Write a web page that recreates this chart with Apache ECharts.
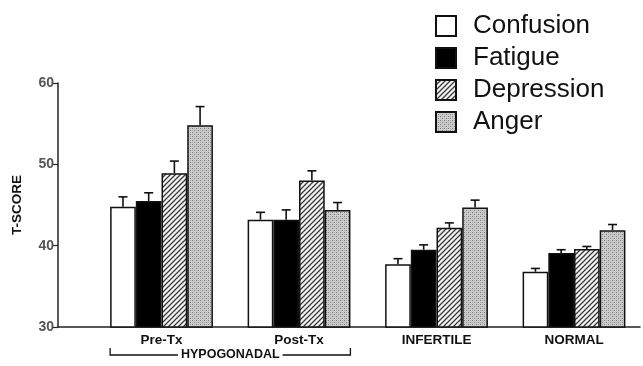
<!DOCTYPE html>
<html><head><meta charset="utf-8">
<script src="https://cdn.jsdelivr.net/npm/echarts@6/dist/echarts.min.js"></script>
<style>html,body{margin:0;padding:0;background:#fff}#c{width:643px;height:366px}</style>
</head><body><div id="c"></div>
<script>
const categories = ['Pre-Tx', 'Post-Tx', 'INFERTILE', 'NORMAL'];
const seriesNames = ['Confusion', 'Fatigue', 'Depression', 'Anger'];
const confusion = [44.8, 43.2, 37.7, 36.8];
const confusionErr = [46.0, 44.1, 38.4, 37.2];
const fatigue = [45.5, 43.2, 39.5, 39.1];
const fatigueErr = [46.5, 44.4, 40.1, 39.5];
const depression = [48.9, 48.0, 42.2, 39.6];
const depressionErr = [50.4, 49.2, 42.8, 39.9];
const anger = [54.8, 44.4, 44.7, 41.9];
const angerErr = [57.1, 45.3, 45.6, 42.6];
const yTicks = [30, 40, 50, 60];
const groupLabel = 'HYPOGONADAL';
const yName = 'T-SCORE';

const values = [confusion, fatigue, depression, anger];
const errs = [confusionErr, fatigueErr, depressionErr, angerErr];

function hatch() {
  const c = document.createElement('canvas'); c.width = 5; c.height = 5;
  const g = c.getContext('2d');
  g.fillStyle = '#f4f4f4'; g.fillRect(0, 0, 5, 5);
  g.strokeStyle = '#3a3a3a'; g.lineWidth = 1.3;
  g.beginPath();
  g.moveTo(-1, 6); g.lineTo(6, -1);
  g.moveTo(-1, 1); g.lineTo(1, -1);
  g.moveTo(4, 6); g.lineTo(6, 4);
  g.stroke();
  return c;
}
function stipple() {
  const c = document.createElement('canvas'); c.width = 4; c.height = 4;
  const g = c.getContext('2d');
  g.fillStyle = '#cdcdcd'; g.fillRect(0, 0, 4, 4);
  g.fillStyle = '#7a7a7a';
  g.fillRect(0, 0, 1, 1); g.fillRect(2, 2, 1, 1);
  g.fillStyle = '#a8a8a8';
  g.fillRect(2, 0, 1, 1); g.fillRect(0, 2, 1, 1);
  return c;
}
const fills = ['#ffffff', '#000000', { image: hatch(), repeat: 'repeat' }, { image: stipple(), repeat: 'repeat' }];

const BW = 25.7;
const chart = echarts.init(document.getElementById('c'), null, { renderer: 'canvas' });

const series = [];
seriesNames.forEach((name, k) => {
  series.push({
    name: name, type: 'bar', barWidth: BW, barGap: '0%',
    data: values[k].map((v, i) => [i, v]),
    itemStyle: { color: fills[k], borderColor: '#111', borderWidth: 1.5 },
    emphasis: { disabled: true },
    z: 2
  });
});
seriesNames.forEach((name, k) => {
  series.push({
    name: name + ' err', type: 'custom', z: 5,
    data: errs[k].map((e, i) => [i, values[k][i], e]),
    renderItem: function (params, api) {
      const lo = api.coord([api.value(0), api.value(1)]);
      const hi = api.coord([api.value(0), api.value(2)]);
      const x = lo[0] + (k - 1.5) * BW;
      const st = { stroke: '#111', lineWidth: 1.6 };
      return { type: 'group', children: [
        { type: 'line', shape: { x1: x, y1: lo[1], x2: x, y2: hi[1] }, style: st },
        { type: 'line', shape: { x1: x - 4.5, y1: hi[1], x2: x + 4.5, y2: hi[1] }, style: st }
      ] };
    }
  });
});

chart.setOption({
  animation: false,
  textStyle: { fontFamily: 'Liberation Sans' },
  grid: { left: 58, right: 3, top: 83, bottom: 39 },
  legend: {
    data: seriesNames, orient: 'vertical', left: 430, top: 8,
    itemWidth: 20, itemHeight: 20, itemGap: 6, selectedMode: false,
    icon: 'rect',
    textStyle: { fontSize: 26, color: '#111', fontFamily: 'Liberation Sans', padding: [0, 0, 0, 12] }
  },
  xAxis: {
    type: 'value', min: -0.753, max: 3.48,
    axisLine: { show: true, onZero: false, lineStyle: { color: '#222', width: 1.5 } },
    axisTick: { show: false },
    splitLine: { show: false },
    axisLabel: {
      customValues: [0, 1, 2, 3],
      formatter: v => categories[Math.round(v)] || '',
      fontSize: 13.5, fontWeight: 'bold', color: '#111', margin: 6
    }
  },
  yAxis: {
    type: 'value', min: yTicks[0], max: yTicks[yTicks.length - 1], interval: 10,
    name: yName, nameLocation: 'middle', nameGap: 34, nameRotate: 90,
    nameTextStyle: { fontSize: 13.5, fontWeight: 'bold', color: '#111' },
    axisLine: { show: true, onZero: false, lineStyle: { color: '#222', width: 1.5 } },
    axisTick: { show: true, length: 5, lineStyle: { color: '#222', width: 1.2 } },
    splitLine: { show: false },
    axisLabel: { fontSize: 14, fontWeight: 'bold', color: '#555', margin: 4 }
  },
  series: series
});

const leftX = chart.convertToPixel({ xAxisIndex: 0 }, 0) - 2 * BW;
const rightX = chart.convertToPixel({ xAxisIndex: 0 }, 1) + 2 * BW;
const by = 355;
chart.setOption({
  graphic: [
    { type: 'polyline', shape: { points: [[leftX, by - 7], [leftX, by], [rightX, by], [rightX, by - 7]] },
      style: { stroke: '#111', lineWidth: 1.3, fill: null }, z: 10 },
    { type: 'text', x: (leftX + rightX) / 2, y: by, z: 11,
      style: { text: groupLabel, fontSize: 12.5, fontWeight: 'bold', fill: '#111', fontFamily: 'Liberation Sans',
        align: 'center', verticalAlign: 'middle', backgroundColor: '#fff', padding: [0, 3] } }
  ]
});
</script></body></html>
